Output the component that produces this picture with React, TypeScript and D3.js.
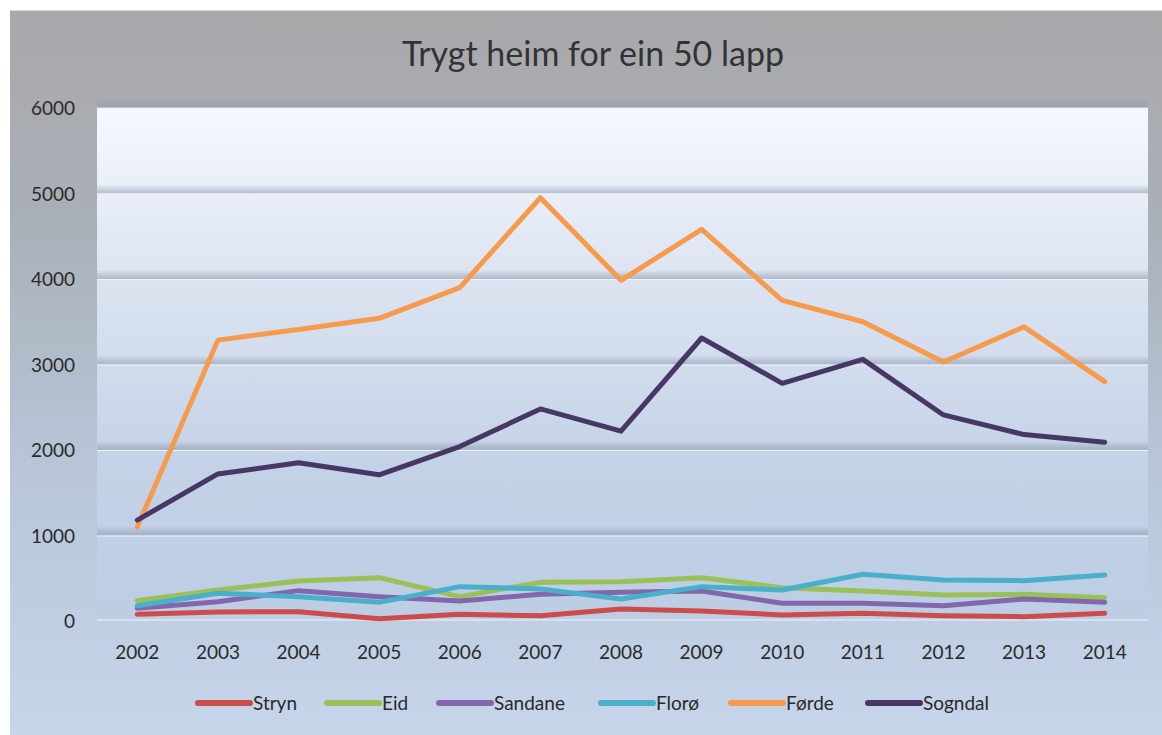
import React from "react";
import * as d3 from "d3";

const years = ["2002","2003","2004","2005","2006","2007","2008","2009","2010","2011","2012","2013","2014"];
const stryn = [78, 105, 109, 25, 78, 62, 140, 117, 70, 90, 62, 51, 90];
const eid = [238, 362, 468, 507, 285, 452, 460, 507, 390, 351, 304, 312, 273];
const sandane = [148, 226, 355, 285, 234, 312, 335, 351, 207, 207, 179, 257, 218];
const floro = [179, 324, 285, 218, 402, 374, 257, 402, 362, 546, 480, 472, 538];
const forde = [1100, 3285, 3410, 3540, 3900, 4950, 3985, 4580, 3750, 3500, 3030, 3440, 2800];
const sogndal = [1180, 1720, 1850, 1710, 2040, 2480, 2220, 3310, 2780, 3060, 2410, 2180, 2090];
const yTicks = [0, 1000, 2000, 3000, 4000, 5000, 6000];

const seriesNames = ["Stryn", "Eid", "Sandane", "Florø", "Førde", "Sogndal"];
const seriesValues = [stryn, eid, sandane, floro, forde, sogndal];
const seriesColors = ["#cc4c4a", "#9bc05a", "#8466ac", "#4aafcb", "#f79a4c", "#463764"];
const legendX = [196, 325, 437, 599, 729, 866];

export default function App() {
  const W = 1162, H = 735;
  const plotL = 97, plotR = 1148, plotT = 107, plotB = 621;
  const x = d3.scalePoint<string>().domain(years).range([97, 1145]).padding(0.5);
  const y = d3.scaleLinear().domain([0, 6000]).range([621, 108]);
  const line = d3.line<number>().x((_, i) => x(years[i]) as number).y(d => y(d));
  const font = "Lato, 'Open Sans', 'Liberation Sans', sans-serif";

  return (
    <svg width={W} height={H} style={{ position: "absolute", left: 0, top: 0 }} fontFamily={font}>
      <defs>
        <linearGradient id="outer" x1="0" y1="0" x2="0" y2="1">
          <stop offset="0" stopColor="#a9a8ab" />
          <stop offset="0.3" stopColor="#aab0b8" />
          <stop offset="0.6" stopColor="#b6c4d6" />
          <stop offset="1" stopColor="#c6d5ea" />
        </linearGradient>
        <linearGradient id="plot" x1="0" y1="0" x2="0" y2="1">
          <stop offset="0" stopColor="#f6f8fe" />
          <stop offset="0.35" stopColor="#dbe3f0" />
          <stop offset="0.7" stopColor="#c4d2e7" />
          <stop offset="1" stopColor="#bccde4" />
        </linearGradient>
        <linearGradient id="band" x1="0" y1="0" x2="0" y2="1">
          <stop offset="0" stopColor="#8a98ac" stopOpacity="0" />
          <stop offset="0.6" stopColor="#8a98ac" stopOpacity="0.38" />
          <stop offset="1" stopColor="#8a98ac" stopOpacity="0.55" />
        </linearGradient>
      </defs>
      <rect x={0} y={0} width={W} height={H} fill="#ffffff" />
      <rect x={10} y={10} width={W - 10} height={H - 10} fill="url(#outer)" />
      <line x1={10} x2={W} y1={10.5} y2={10.5} stroke="#d8d8d8" strokeWidth={1} />
      <text x={593} y={66} textAnchor="middle" fontSize={34} fill="#333333">Trygt heim for ein 50 lapp</text>

      <rect x={plotL} y={plotT} width={plotR - plotL} height={plotB - plotT} fill="url(#plot)" />
      {yTicks.filter(t => t > 0).map(t => (
        <g key={t}>
          <rect x={plotL} y={y(t) - 9} width={plotR - plotL} height={9} fill="url(#band)" />
          <line x1={plotL} x2={plotR} y1={y(t) + 0.5} y2={y(t) + 0.5} stroke="#eef2f9" strokeWidth={1} />
        </g>
      ))}
      <rect x={plotL} y={plotB - 2} width={plotR - plotL} height={2} fill="#d6e0ee" />

      {yTicks.map(t => (
        <text key={t} x={75} y={y(t) + 7} textAnchor="end" fontSize={19} fill="#2a2a2a">{t}</text>
      ))}
      {years.map(yr => (
        <text key={yr} x={x(yr)} y={659} textAnchor="middle" fontSize={19} fill="#2a2a2a">{yr}</text>
      ))}

      {seriesValues.map((vals, i) => (
        <path key={seriesNames[i]} d={line(vals) || ""} fill="none" stroke={seriesColors[i]}
          strokeWidth={5} strokeLinejoin="round" strokeLinecap="round" />
      ))}

      {seriesNames.map((n, i) => (
        <g key={n}>
          <line x1={legendX[i] + 2} x2={legendX[i] + 54} y1={703} y2={703} stroke={seriesColors[i]}
            strokeWidth={6} strokeLinecap="round" />
          <text x={legendX[i] + 57} y={710} fontSize={19} fill="#2a2a2a">{n}</text>
        </g>
      ))}
    </svg>
  );
}
